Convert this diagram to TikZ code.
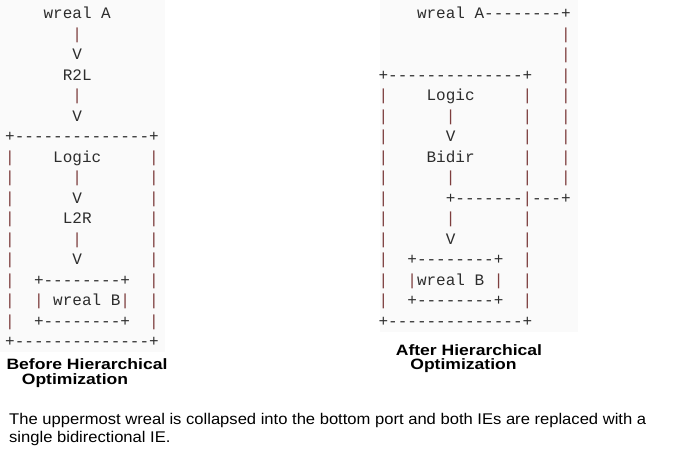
\documentclass[tikz,border=0pt]{standalone}
\usepackage{fontspec}
\setmainfont{Liberation Sans}
\newfontfamily\asciifont{Liberation Mono}
\newfontfamily\titlefont[FakeStretch=1.17]{Liberation Sans}
\newfontfamily\captionfont[FakeStretch=1.07]{Liberation Sans}
\usepackage{tikz}
\definecolor{pipered}{RGB}{125,62,62}
\definecolor{asciigray}{RGB}{45,45,45}
\newcommand{\pipechar}{\textcolor{pipered}{|}}
\tikzset{ascii row/.style={anchor=base west,inner sep=0pt,outer sep=0pt,text=asciigray,font=\asciifont\fontsize{16}{20}\selectfont}}
\tikzset{panel/.style={fill=black!2,draw=none}}
\tikzset{title/.style={anchor=base,inner sep=0pt,font=\titlefont\bfseries\fontsize{15}{18}\selectfont}}
\tikzset{caption/.style={anchor=base west,inner sep=0pt,font=\captionfont\fontsize{15.5}{18}\selectfont}}

\begin{document}
\begin{tikzpicture}[x=1pt,y=-1pt]
  \useasboundingbox (0,0) rectangle (675,451);
  \fill[panel] (0,0) rectangle (165,352);
  \fill[panel] (380,0) rectangle (578,332);

  % before
  \foreach \row [count=\i from 0] in {
      ~~~~wreal~A,
      ~~~~~~~\pipechar,
      ~~~~~~~V,
      ~~~~~~R2L,
      ~~~~~~~\pipechar,
      ~~~~~~~V,
      +--------------+,
      \pipechar~~~~Logic~~~~~\pipechar,
      \pipechar~~~~~~\pipechar~~~~~~~\pipechar,
      \pipechar~~~~~~V~~~~~~~\pipechar,
      \pipechar~~~~~L2R~~~~~~\pipechar,
      \pipechar~~~~~~\pipechar~~~~~~~\pipechar,
      \pipechar~~~~~~V~~~~~~~\pipechar,
      \pipechar~~+--------+~~\pipechar,
      \pipechar~~\pipechar~wreal~B\pipechar~~\pipechar,
      \pipechar~~+--------+~~\pipechar,
      +--------------+}
    \node[ascii row] (B\i) at (5.2,18.5+20.5*\i) {\row};

  % after
  \foreach \row [count=\i from 0] in {
      ~~~~wreal~A--------+,
      ~~~~~~~~~~~~~~~~~~~\pipechar,
      ~~~~~~~~~~~~~~~~~~~\pipechar,
      +--------------+~~~\pipechar,
      \pipechar~~~~Logic~~~~~\pipechar~~~\pipechar,
      \pipechar~~~~~~\pipechar~~~~~~~\pipechar~~~\pipechar,
      \pipechar~~~~~~V~~~~~~~\pipechar~~~\pipechar,
      \pipechar~~~~Bidir~~~~~\pipechar~~~\pipechar,
      \pipechar~~~~~~\pipechar~~~~~~~\pipechar~~~\pipechar,
      \pipechar~~~~~~+-------\pipechar---+,
      \pipechar~~~~~~\pipechar~~~~~~~\pipechar,
      \pipechar~~~~~~V~~~~~~~\pipechar,
      \pipechar~~+--------+~~\pipechar,
      \pipechar~~\pipechar wreal~B~\pipechar~~\pipechar,
      \pipechar~~+--------+~~\pipechar,
      +--------------+}
    \node[ascii row] (A\i) at (378.6,18.5+20.5*\i) {\row};

  \node[title] (before1) at (87,369) {Before Hierarchical};
  \node[title] (before2) at (75,384) {Optimization};
  \node[title] (after1) at (469,355) {After Hierarchical};
  \node[title] (after2) at (463.5,369.5) {Optimization};

  \node[caption] (cap1) at (9,424) {The uppermost wreal is collapsed into the bottom port and both IEs are replaced with a};
  \node[caption] (cap2) at (9,442) {single bidirectional IE.};
\end{tikzpicture}
\end{document}
